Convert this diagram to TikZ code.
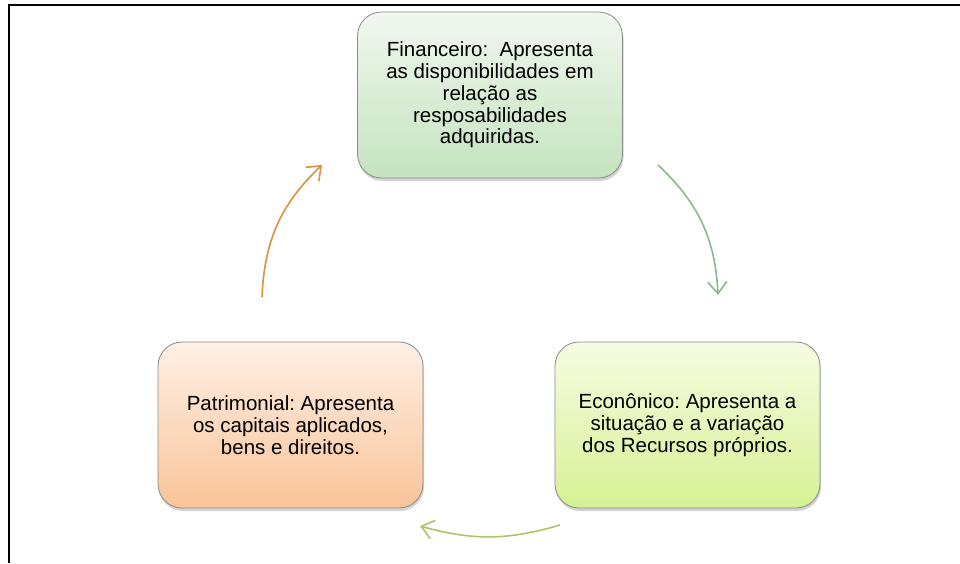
\documentclass[tikz,border=0pt]{standalone}
\usepackage{fontspec}
\setmainfont{Liberation Sans}
\usetikzlibrary{arrows.meta,shadows}
\definecolor{finTop}{RGB}{241,248,239}
\definecolor{finBot}{RGB}{196,227,190}
\definecolor{ecoTop}{RGB}{246,252,226}
\definecolor{ecoBot}{RGB}{214,241,148}
\definecolor{patTop}{RGB}{254,239,229}
\definecolor{patBot}{RGB}{250,196,152}
\definecolor{boxLine}{RGB}{135,140,135}
\definecolor{arrGreen}{RGB}{140,184,140}
\definecolor{arrLime}{RGB}{172,197,104}
\definecolor{arrOrange}{RGB}{218,146,66}
\frenchspacing
\begin{document}
\begin{tikzpicture}[x=1pt,y=1pt,
    fase/.style={draw=boxLine,line width=0.8pt,rounded corners=24pt,
      minimum width=265pt,minimum height=166pt,align=center,
      font=\fontsize{20.5}{21.8}\selectfont,
      drop shadow={shadow xshift=1pt,shadow yshift=-3pt,opacity=0.35}},
    ciclo/.style={line width=1.6pt,-{Straight Barb[length=12pt,width=19pt,line width=1.6pt]}}]
  \useasboundingbox (0,0) rectangle (960,563);
  \draw[line width=2pt] (960,557.5) -- (9,557.5) -- (9,0);
  \node[fase,top color=finTop,bottom color=finBot] (fin) at (490,468)
    {Financeiro: \ Apresenta\\as disponibilidades em\\rela\c{c}\~ao as\\resposabilidades\\adquiridas.};
  \node[fase,top color=ecoTop,bottom color=ecoBot] (eco) at (687.5,138)
    {Econ\^onico: Apresenta a\\situa\c{c}\~ao e a varia\c{c}\~ao\\dos Recursos pr\'oprios.};
  \node[fase,top color=patTop,bottom color=patBot] (pat) at (290.5,138)
    {Patrimonial: Apresenta\\os capitais aplicados,\\bens e direitos.};
  \coordinate (finSai) at (658,398);
  \coordinate (ecoEnt) at (718,268);
  \coordinate (ecoSai) at (560,38);
  \coordinate (patEnt) at (420,37);
  \coordinate (patSai) at (262,266);
  \coordinate (finEnt) at (322,398);
  \draw[ciclo,arrGreen] (finSai) to[bend left=22] (ecoEnt);
  \draw[ciclo,arrLime] (ecoSai) to[bend left=16] (patEnt);
  \draw[ciclo,arrOrange] (patSai) to[bend left=22] (finEnt);
\end{tikzpicture}
\end{document}
